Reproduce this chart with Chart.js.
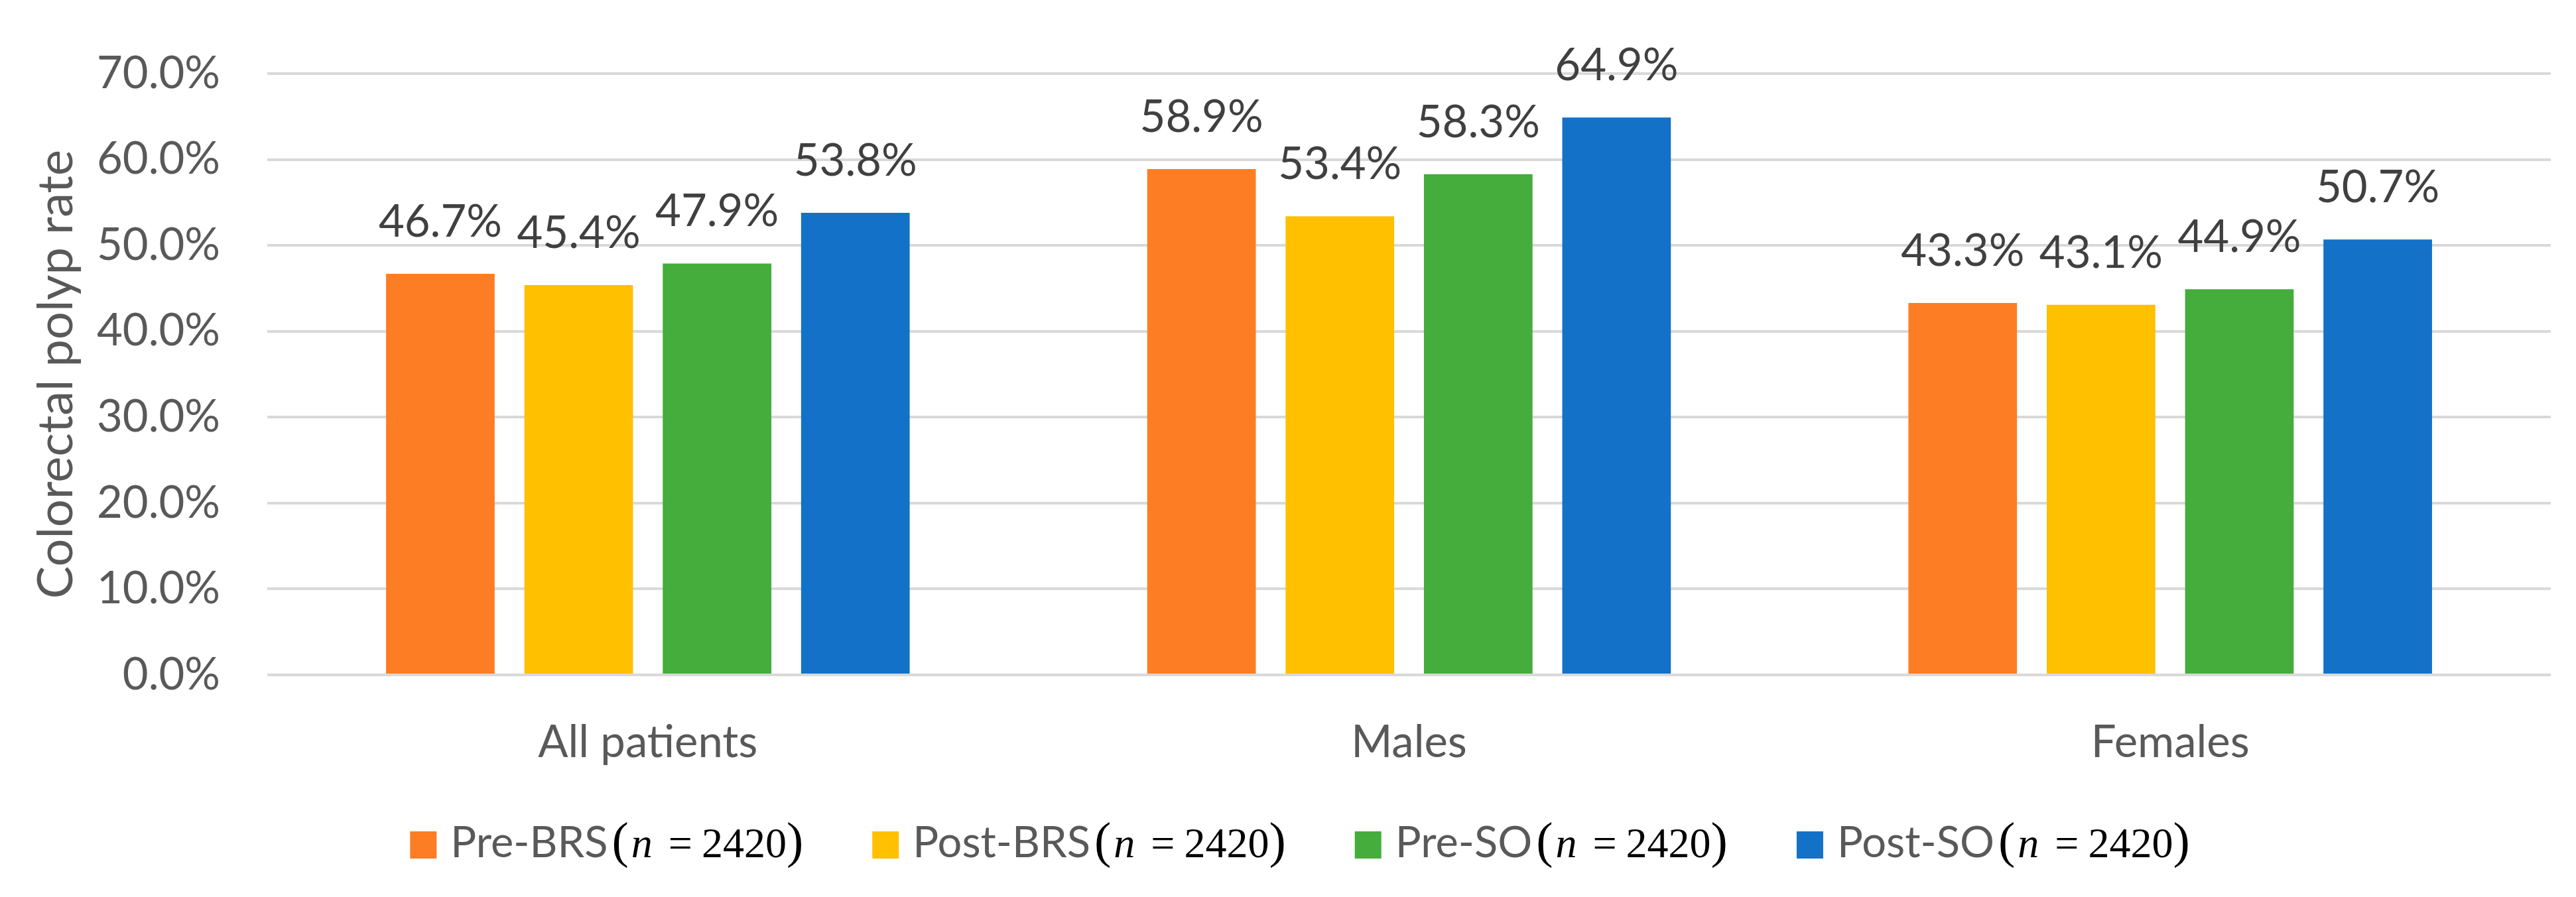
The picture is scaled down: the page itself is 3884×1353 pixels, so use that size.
<!DOCTYPE html>
<html>
<head>
<meta charset="utf-8">
<script src="https://cdn.jsdelivr.net/npm/chart.js@4"></script>
<style>
html, body { margin: 0; padding: 0; background: #fff; }
canvas { display: block; }
</style>
</head>
<body>
<canvas id="polyp-chart" width="3884" height="1353" style="width:3884px;height:1353px"></canvas>
<script>
// data
const categories = ['All patients', 'Males', 'Females'];
const seriesNames = ['Pre-BRS', 'Post-BRS', 'Pre-SO', 'Post-SO'];
const seriesN = [2420, 2420, 2420, 2420];
const preBRS = [46.7, 58.9, 43.3];
const postBRS = [45.4, 53.4, 43.1];
const preSO = [47.9, 58.3, 44.9];
const postSO = [53.8, 64.9, 50.7];
const yTicks = [0, 10, 20, 30, 40, 50, 60, 70];

const colors = ['#FD7D24', '#FFC000', '#44AD3B', '#1471C8'];
const seriesValues = [preBRS, postBRS, preSO, postSO];

const GREY = '#595959';
const SERIF = "'Liberation Serif', 'Times New Roman', Times, serif";

// percent labels above each bar
const valueLabels = {
  id: 'valueLabels',
  afterDatasetsDraw(chart) {
    const ctx = chart.ctx;
    ctx.save();
    ctx.font = '67px Lato';
    ctx.fillStyle = '#404040';
    ctx.textAlign = 'center';
    ctx.textBaseline = 'alphabetic';
    chart.data.datasets.forEach((ds, i) => {
      chart.getDatasetMeta(i).data.forEach((bar, j) => {
        ctx.fillText(ds.data[j].toFixed(1) + '%', bar.x, bar.y - 56);
      });
    });
    ctx.restore();
  }
};

// legend with the "(n = 2420)" part set like an equation
const mathLegend = {
  id: 'mathLegend',
  afterDraw(chart) {
    const ctx = chart.ctx;
    const boxW = 40, boxH = 41, boxGap = 21, itemGap = 104;
    const boxTop = 1254, baseline = 1293, centerX = 1960;
    const sans = '65px Lato';
    const serif = '64px ' + SERIF;
    const serifIt = 'italic 64px ' + SERIF;
    const paren = '76px ' + SERIF;

    ctx.save();
    const items = chart.data.datasets.map((ds, i) => {
      const parts = [
        { t: seriesNames[i], f: sans, c: GREY, after: 6 },
        { t: '(', f: paren, c: '#000', after: 4 },
        { t: 'n', f: serifIt, c: '#000', after: 24 },
        { t: '=', f: serif, c: '#000', after: 14 },
        { t: String(seriesN[i]), f: serif, c: '#000', after: 0 },
        { t: ')', f: paren, c: '#000', after: 0 }
      ];
      let w = boxW + boxGap;
      parts.forEach(p => {
        ctx.font = p.f;
        p.w = ctx.measureText(p.t).width;
        w += p.w + p.after;
      });
      return { color: ds.backgroundColor, parts, w };
    });

    const total = items.reduce((s, it) => s + it.w, 0) + itemGap * (items.length - 1);
    let x = centerX - total / 2;
    ctx.textBaseline = 'alphabetic';
    ctx.textAlign = 'left';
    items.forEach(it => {
      ctx.fillStyle = it.color;
      ctx.fillRect(x, boxTop, boxW, boxH);
      let tx = x + boxW + boxGap;
      it.parts.forEach(p => {
        ctx.font = p.f;
        ctx.fillStyle = p.c;
        ctx.fillText(p.t, tx, baseline);
        tx += p.w + p.after;
      });
      x += it.w + itemGap;
    });
    ctx.restore();
  }
};

function drawChart() {
  const ctx = document.getElementById('polyp-chart').getContext('2d');
  new Chart(ctx, {
    type: 'bar',
    data: {
      labels: categories,
      datasets: seriesNames.map((name, i) => ({
        label: name,
        data: seriesValues[i],
        backgroundColor: colors[i],
        borderWidth: 0,
        categoryPercentage: 0.727,
        barPercentage: 0.785
      }))
    },
    options: {
      responsive: false,
      devicePixelRatio: 1,
      animation: false,
      layout: { padding: { top: 73, right: 38, left: 0, bottom: 0 } },
      plugins: {
        legend: { display: false },
        tooltip: { enabled: false }
      },
      scales: {
        x: {
          grid: { display: false, drawTicks: false },
          border: { display: false },
          ticks: { padding: 62, color: GREY, font: { family: 'Lato', size: 67 } },
          afterFit(scale) { scale.height = 335; }
        },
        y: {
          min: 0,
          max: 70,
          afterBuildTicks(scale) { scale.ticks = yTicks.map(v => ({ value: v })); },
          afterFit(scale) { scale.width = 403; },
          grid: { color: '#D9D9D9', lineWidth: 4, drawTicks: false },
          border: { display: false },
          ticks: {
            padding: 71,
            color: GREY,
            font: { family: 'Lato', size: 67 },
            callback: v => Number(v).toFixed(1) + '%'
          },
          title: {
            display: true,
            text: 'Colorectal polyp rate',
            color: GREY,
            font: { family: 'Lato', size: 74 },
            padding: { top: 41, bottom: 0 }
          }
        }
      }
    },
    plugins: [valueLabels, mathLegend]
  });
}

Promise.all([
  document.fonts.load('67px Lato'),
  document.fonts.load('64px "Liberation Serif"'),
  document.fonts.load('italic 64px "Liberation Serif"')
]).then(drawChart, drawChart);
</script>
</body>
</html>
